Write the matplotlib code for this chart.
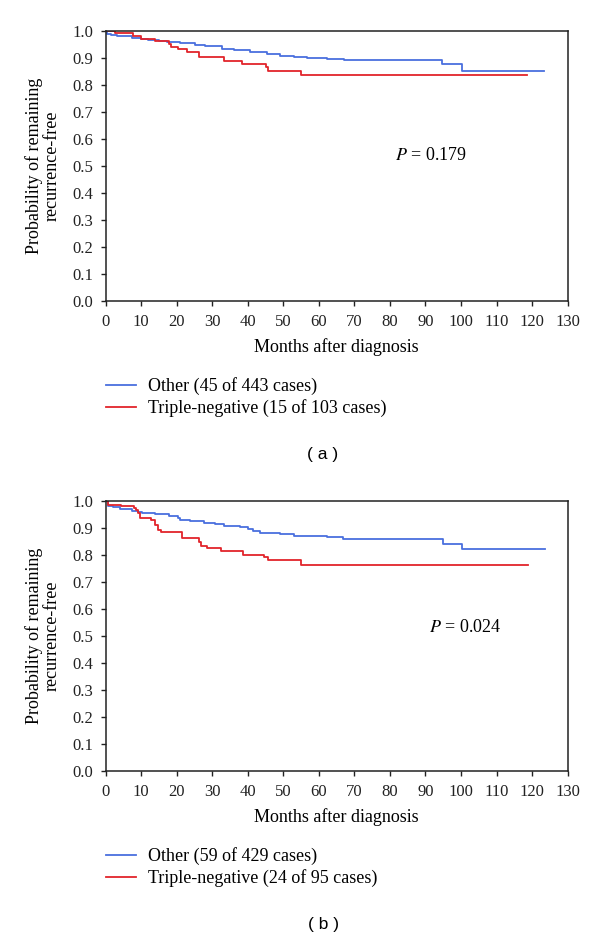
import numpy as np
import matplotlib
matplotlib.use("Agg")
import matplotlib.pyplot as plt

plt.rcParams['font.family'] = ['Liberation Serif', 'DejaVu Serif']
plt.rcParams['mathtext.fontset'] = 'stix'

# panel (a): Kaplan-Meier steps (months, survival)
a_other_t = [0, 0.5, 1.5, 3.2, 7.4, 10, 12, 15, 17.2, 21, 25.2, 28, 32.7, 36, 40.7,
             45.4, 49.2, 53, 56.7, 62.3, 67, 94.7, 100.3, 123.3]
a_other_s = [1.0, 0.989, 0.984, 0.980, 0.973, 0.970, 0.966, 0.963, 0.960, 0.954, 0.948,
             0.945, 0.932, 0.929, 0.921, 0.914, 0.907, 0.905, 0.901, 0.897, 0.893,
             0.877, 0.852, 0.852]
a_tn_t = [0, 2.7, 7.8, 10, 14, 17.7, 18.5, 20.5, 23, 26.4, 33.2, 38.4, 45.1, 45.7, 55, 118.6]
a_tn_s = [1.0, 0.991, 0.981, 0.971, 0.962, 0.952, 0.942, 0.932, 0.921, 0.903, 0.888,
          0.879, 0.867, 0.853, 0.838, 0.838]

# panel (b)
b_other_t = [0, 0.8, 2.2, 4.1, 7.4, 9.2, 10.2, 13.9, 17.7, 20.5, 21, 23.8, 27.6, 30.8,
             33.2, 37.9, 40.2, 41.6, 43.5, 49.2, 52.9, 62.3, 66.8, 95, 100.2, 123.5]
b_other_s = [1.0, 0.981, 0.977, 0.969, 0.964, 0.958, 0.954, 0.951, 0.946, 0.936, 0.930,
             0.925, 0.920, 0.915, 0.909, 0.903, 0.895, 0.888, 0.880, 0.877, 0.870,
             0.866, 0.858, 0.841, 0.821, 0.821]
b_tn_t = [0, 0.8, 4.3, 8.0, 8.5, 9.0, 9.8, 12.8, 13.8, 14.8, 15.5, 21.6, 26.3, 26.8,
          28.6, 32.5, 38.6, 44.5, 45.7, 55, 118.9]
b_tn_s = [1.0, 0.985, 0.981, 0.973, 0.965, 0.954, 0.938, 0.930, 0.911, 0.893, 0.884,
          0.862, 0.850, 0.835, 0.825, 0.815, 0.800, 0.791, 0.781, 0.763, 0.763]

a_labels = ["Other (45 of 443 cases)", "Triple-negative (15 of 103 cases)"]
b_labels = ["Other (59 of 429 cases)", "Triple-negative (24 of 95 cases)"]
p_values = ["0.179", "0.024"]
p_pos = [(81.5, 0.54), (90.9, 0.533)]
panel_tags = ["( a )", "( b )"]

x_ticks = np.arange(0, 131, 10)
y_ticks = np.round(np.arange(0, 1.01, 0.1), 1)

BLUE = '#4a6fde'
RED = '#e2242b'
FS = 13
TICK_FS = 12

fig = plt.figure(figsize=(6, 9.42), dpi=100)

panels = [(a_other_t, a_other_s, a_tn_t, a_tn_s, a_labels),
          (b_other_t, b_other_s, b_tn_t, b_tn_s, b_labels)]

for i, (ot, os_, tt, ts, labels) in enumerate(panels):
    off = i * 470 / 942
    ax = fig.add_axes([0.176, 1 - 301 / 942 - off, 0.77, 270 / 942])
    ax.step(ot, os_, where='post', color=BLUE, lw=1.3, label=labels[0])
    ax.step(tt, ts, where='post', color=RED, lw=1.3, label=labels[1])
    ax.set_xlim(0, 130)
    ax.set_ylim(0, 1.0)
    ax.set_xticks(x_ticks)
    ax.set_yticks(y_ticks)
    ax.set_yticklabels(["%.1f" % v for v in y_ticks])
    ax.tick_params(direction='out', length=3.6, width=1, labelsize=TICK_FS,
                   colors='#222222')
    ax.tick_params(axis='x', pad=5.5)
    ax.tick_params(axis='y', pad=5.5)
    for s in ax.spines.values():
        s.set_linewidth(1.1)
        s.set_color('#222222')
    ax.set_xlabel("Months after diagnosis", fontsize=FS, labelpad=6)
    ax.set_ylabel("Probability of remaining\nrecurrence-free", fontsize=FS,
                  labelpad=8, linespacing=1.05)
    ax.text(p_pos[i][0], p_pos[i][1], r"$P$ = " + p_values[i], fontsize=FS,
            va='center', ha='left')
    ax.legend(loc='upper left', bbox_to_anchor=(0, -0.282), frameon=False,
              fontsize=FS, handlelength=1.67, handletextpad=0.67, labelspacing=0.22,
              borderpad=0, borderaxespad=0)
    fig.text(323 / 600, 1 - (455 + i * 470) / 942, panel_tags[i], ha='center',
             va='center', fontsize=12.5, family='Liberation Sans')

fig.savefig("out.png", dpi=100)
